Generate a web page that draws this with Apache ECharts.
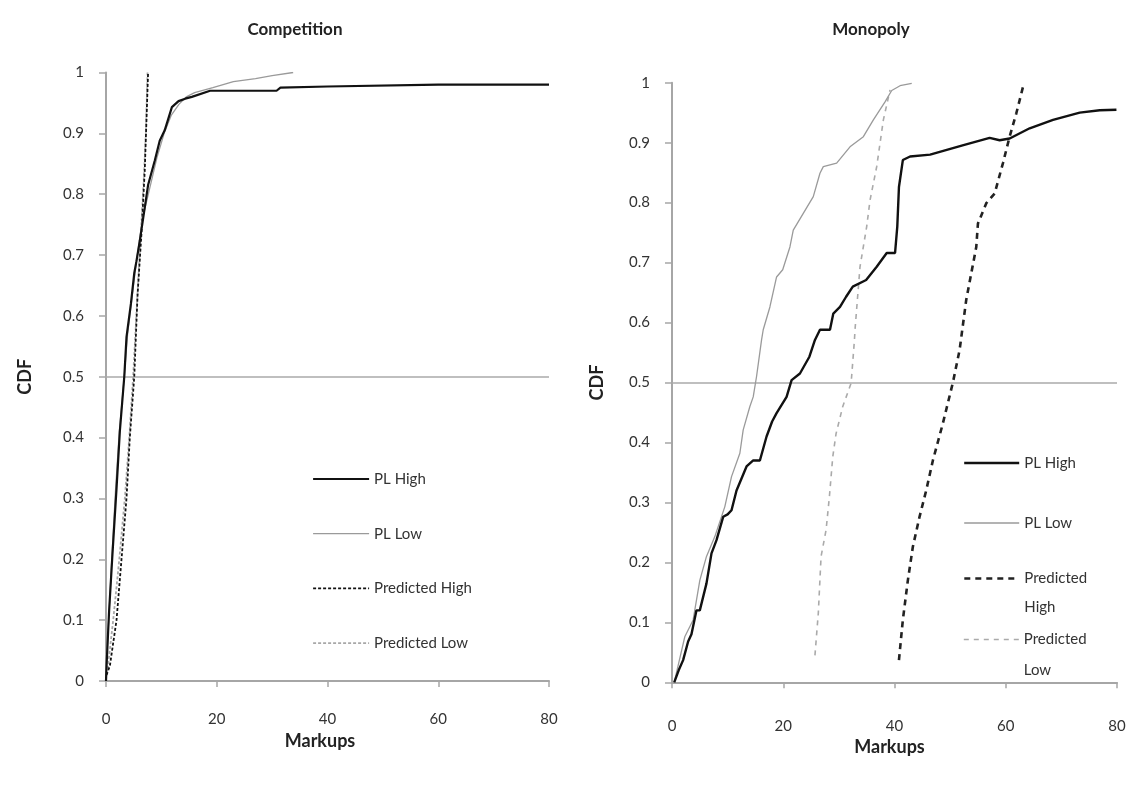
<!DOCTYPE html>
<html>
<head>
<meta charset="utf-8">
<script src="https://cdn.jsdelivr.net/npm/echarts@6/dist/echarts.min.js"></script>
<style>html,body{margin:0;padding:0;background:#fff}#c{width:1135px;height:785px}</style>
</head>
<body>
<div id="c"></div>
<script>
// ---- data ----
const panelTitles = ['Competition', 'Monopoly'];
const seriesNames = ['PL High', 'PL Low', 'Predicted High', 'Predicted Low'];
const xTicks = { min: 0, max: 80, interval: 20 };
const yTicks = { min: 0, max: 1, interval: 0.1 };
const medianLine = 0.5;

const compPLHigh = [[0,0],[0.1,0.025],[0.55,0.113],[1.15,0.206],[1.9,0.316],[2.5,0.41],[3.3,0.5],[3.7,0.565],[4.5,0.62],[5.1,0.67],[5.5,0.69],[6.1,0.723],[6.7,0.76],[7.6,0.815],[8.8,0.855],[9.7,0.888],[10.6,0.905],[11.9,0.943],[13.1,0.953],[14.3,0.957],[15.5,0.96],[18.8,0.97],[30.8,0.97],[31.5,0.975],[40,0.977],[60,0.98],[80,0.98]];
const compPLLow = [[0,0],[0.2,0.05],[0.6,0.12],[1.1,0.21],[1.7,0.31],[2.4,0.41],[3.3,0.5],[3.9,0.57],[4.7,0.63],[5.5,0.69],[6.6,0.76],[7.9,0.81],[9.2,0.86],[10.5,0.9],[11.8,0.93],[13.2,0.948],[14.5,0.96],[16,0.967],[19.3,0.975],[23,0.985],[27,0.99],[30,0.995],[33.8,1.0]];
const compPredHigh = [[0.1,0.01],[0.7,0.025],[1.9,0.1],[2.8,0.2],[3.7,0.3],[4.3,0.4],[5.1,0.5],[5.7,0.635],[6.4,0.735],[7.0,0.84],[7.6,1.0]];
const compPredLow = [[0.3,0.02],[1.3,0.1],[2.4,0.2],[3.4,0.3],[4.2,0.4],[4.9,0.5],[5.6,0.62],[6.2,0.72],[6.8,0.82],[7.2,0.9],[7.5,1.0]];

const monoPLHigh = [[0.4,0],[1.2,0.02],[2.0,0.037],[2.9,0.068],[3.5,0.08],[4.4,0.12],[5.0,0.12],[6.2,0.165],[7.1,0.215],[8.0,0.237],[9.2,0.276],[10.0,0.28],[10.7,0.287],[11.6,0.32],[12.5,0.34],[13.4,0.36],[14.6,0.37],[15.8,0.37],[17.0,0.41],[18.0,0.435],[18.8,0.449],[20.6,0.476],[21.5,0.504],[23.0,0.515],[24.7,0.543],[25.7,0.571],[26.6,0.588],[28.4,0.588],[29.0,0.615],[30.2,0.626],[31.3,0.643],[32.5,0.66],[34.9,0.671],[36.8,0.693],[38.6,0.716],[40.1,0.716],[40.5,0.76],[40.8,0.826],[41.5,0.871],[42.8,0.877],[46.4,0.88],[52.4,0.896],[57.1,0.908],[58.9,0.904],[60.7,0.907],[64.3,0.924],[68.5,0.938],[73.3,0.95],[76.9,0.954],[79.9,0.955]];
const monoPLLow = [[0.4,0],[1.4,0.04],[2.3,0.076],[3.8,0.104],[5.0,0.17],[6.2,0.21],[7.7,0.243],[9.5,0.293],[10.7,0.343],[12.2,0.382],[12.8,0.421],[14.0,0.46],[14.6,0.476],[15.2,0.51],[16.1,0.571],[16.4,0.588],[17.6,0.626],[18.8,0.676],[19.9,0.688],[21.2,0.726],[21.8,0.754],[23.6,0.782],[25.4,0.81],[26.6,0.849],[27.2,0.86],[29.6,0.866],[32.0,0.893],[34.4,0.91],[36.2,0.938],[38.3,0.968],[39.5,0.987],[41.0,0.995],[43.1,0.999]];
const monoPredHigh = [[40.8,0.037],[41.5,0.104],[42.4,0.17],[43.3,0.226],[44.5,0.276],[45.7,0.32],[46.9,0.37],[48.7,0.432],[50.5,0.5],[51.7,0.554],[52.9,0.638],[53.8,0.682],[54.7,0.726],[55.0,0.765],[56.5,0.799],[58.0,0.815],[59.5,0.866],[60.7,0.91],[61.9,0.949],[63.1,0.993]];
const monoPredLow = [[25.7,0.045],[26.3,0.115],[26.8,0.21],[27.7,0.254],[28.3,0.31],[28.9,0.376],[29.5,0.415],[30.7,0.46],[32.2,0.499],[32.8,0.571],[32.9,0.588],[33.8,0.693],[35.0,0.76],[35.6,0.804],[36.8,0.86],[38.0,0.938],[39.2,0.988]];

// ---- styles ----
const FONT = 'Lato, "Open Sans", sans-serif';
const TXT = '#333';
const AX = '#a6a6a6';
const styles = [
  [ // competition
    { color: '#111', width: 2.2, type: 'solid' },
    { color: '#9a9a9a', width: 1.3, type: 'solid' },
    { color: '#111', width: 1.8, type: [3, 2] },
    { color: '#a8a8a8', width: 1.8, type: [3, 2] }
  ],
  [ // monopoly
    { color: '#111', width: 2.4, type: 'solid' },
    { color: '#9a9a9a', width: 1.3, type: 'solid' },
    { color: '#222', width: 2.6, type: [6, 5] },
    { color: '#aaa', width: 1.6, type: [5, 5] }
  ]
];
const panelData = [
  [compPLHigh, compPLLow, compPredHigh, compPredLow],
  [monoPLHigh, monoPLLow, monoPredHigh, monoPredLow]
];

const grids = [
  { left: 106, right: 586, top: 72.5, bottom: 104 },
  { left: 672, right: 18, top: 82.7, bottom: 102.7 }
];

function xAxis(i, labelMargin, nameGap, namePad) {
  return {
    type: 'value', gridIndex: i, min: xTicks.min, max: xTicks.max, interval: xTicks.interval,
    name: 'Markups', nameLocation: 'middle', nameGap: nameGap,
    nameTextStyle: { fontFamily: FONT, fontSize: 18, fontWeight: 'bold', color: '#222', padding: namePad },
    axisLine: { lineStyle: { color: AX, width: 2 } },
    axisTick: { show: true, length: 6, lineStyle: { color: AX, width: 1.5 } },
    axisLabel: { margin: labelMargin, fontFamily: FONT, fontSize: 15, color: TXT },
    splitLine: { show: false }
  };
}
function yAxis(i, nameGap) {
  return {
    type: 'value', gridIndex: i, min: yTicks.min, max: yTicks.max, interval: yTicks.interval,
    name: 'CDF', nameLocation: 'middle', nameGap: nameGap, nameRotate: 90,
    nameTextStyle: { fontFamily: FONT, fontSize: 18, fontWeight: 'bold', color: '#222' },
    axisLine: { show: true, lineStyle: { color: AX, width: 2 } },
    axisTick: { show: true, length: 7, lineStyle: { color: AX, width: 1.5 } },
    axisLabel: { margin: 22, fontFamily: FONT, fontSize: 15, color: TXT,
      formatter: v => String(Math.round(v * 10) / 10) },
    splitLine: { show: false }
  };
}

const series = [];
for (let p = 0; p < 2; p++) {
  for (let s = 0; s < 4; s++) {
    const st = styles[p][s];
    const item = {
      type: 'line', name: seriesNames[s], xAxisIndex: p, yAxisIndex: p,
      data: panelData[p][s], symbol: 'none', showSymbol: false, smooth: false,
      lineStyle: { color: st.color, width: st.width, type: st.type },
      itemStyle: { color: st.color },
      z: 10 - s, animation: false
    };
    if (s === 0) {
      item.markLine = {
        silent: true, symbol: 'none', label: { show: false },
        lineStyle: { color: '#aaa', width: 1.5, type: 'solid' },
        data: [{ yAxis: medianLine }], animation: false
      };
    }
    series.push(item);
  }
}

function legendItem(p, s) {
  const st = styles[p][s];
  return {
    name: seriesNames[s],
    lineStyle: { color: st.color, width: st.width, type: st.type },
    itemStyle: { color: 'rgba(0,0,0,0)', borderWidth: 0, opacity: 0 }
  };
}
const legendText = { fontFamily: FONT, fontSize: 15, color: TXT };
const legends = [
  { left: 312, top: 469, orient: 'vertical', padding: 0, itemWidth: 56, itemHeight: 14, itemGap: 34.7,
    textStyle: Object.assign({ lineHeight: 20 }, legendText),
    data: [0, 1, 2, 3].map(s => legendItem(0, s)) },
  { left: 963, top: 453, orient: 'vertical', padding: 0, itemWidth: 55, itemHeight: 14, itemGap: 40,
    textStyle: Object.assign({ lineHeight: 20 }, legendText),
    data: [0, 1].map(s => legendItem(1, s)) },
  { left: 963, top: 535, orient: 'vertical', padding: 0, itemWidth: 55, itemHeight: 14,
    textStyle: Object.assign({ lineHeight: 29 }, legendText),
    formatter: n => '\n' + n.replace(' ', '\n'),
    data: [legendItem(1, 2)] },
  { left: 963, top: 593, orient: 'vertical', padding: 0, itemWidth: 55, itemHeight: 14,
    textStyle: Object.assign({ lineHeight: 31 }, legendText),
    formatter: n => '\n' + n.replace(' ', '\n'),
    data: [legendItem(1, 3)] }
];
legends.forEach(l => { l.selectedMode = false; });

const chart = echarts.init(document.getElementById('c'), null, { renderer: 'canvas' });
chart.setOption({
  backgroundColor: '#fff',
  animation: false,
  title: [
    { text: panelTitles[0], left: 290, top: 16, textAlign: 'center',
      textStyle: { fontFamily: FONT, fontSize: 17, fontWeight: 'bold', color: '#222' } },
    { text: panelTitles[1], left: 866, top: 16, textAlign: 'center',
      textStyle: { fontFamily: FONT, fontSize: 17, fontWeight: 'bold', color: '#222' } }
  ],
  grid: grids,
  xAxis: [xAxis(0, 31, 43, [0, 15, 0, 0]), xAxis(1, 36, 54, [0, 10, 0, 0])],
  yAxis: [yAxis(0, 72), yAxis(1, 66)],
  legend: legends,
  series: series
});
</script>
</body>
</html>
